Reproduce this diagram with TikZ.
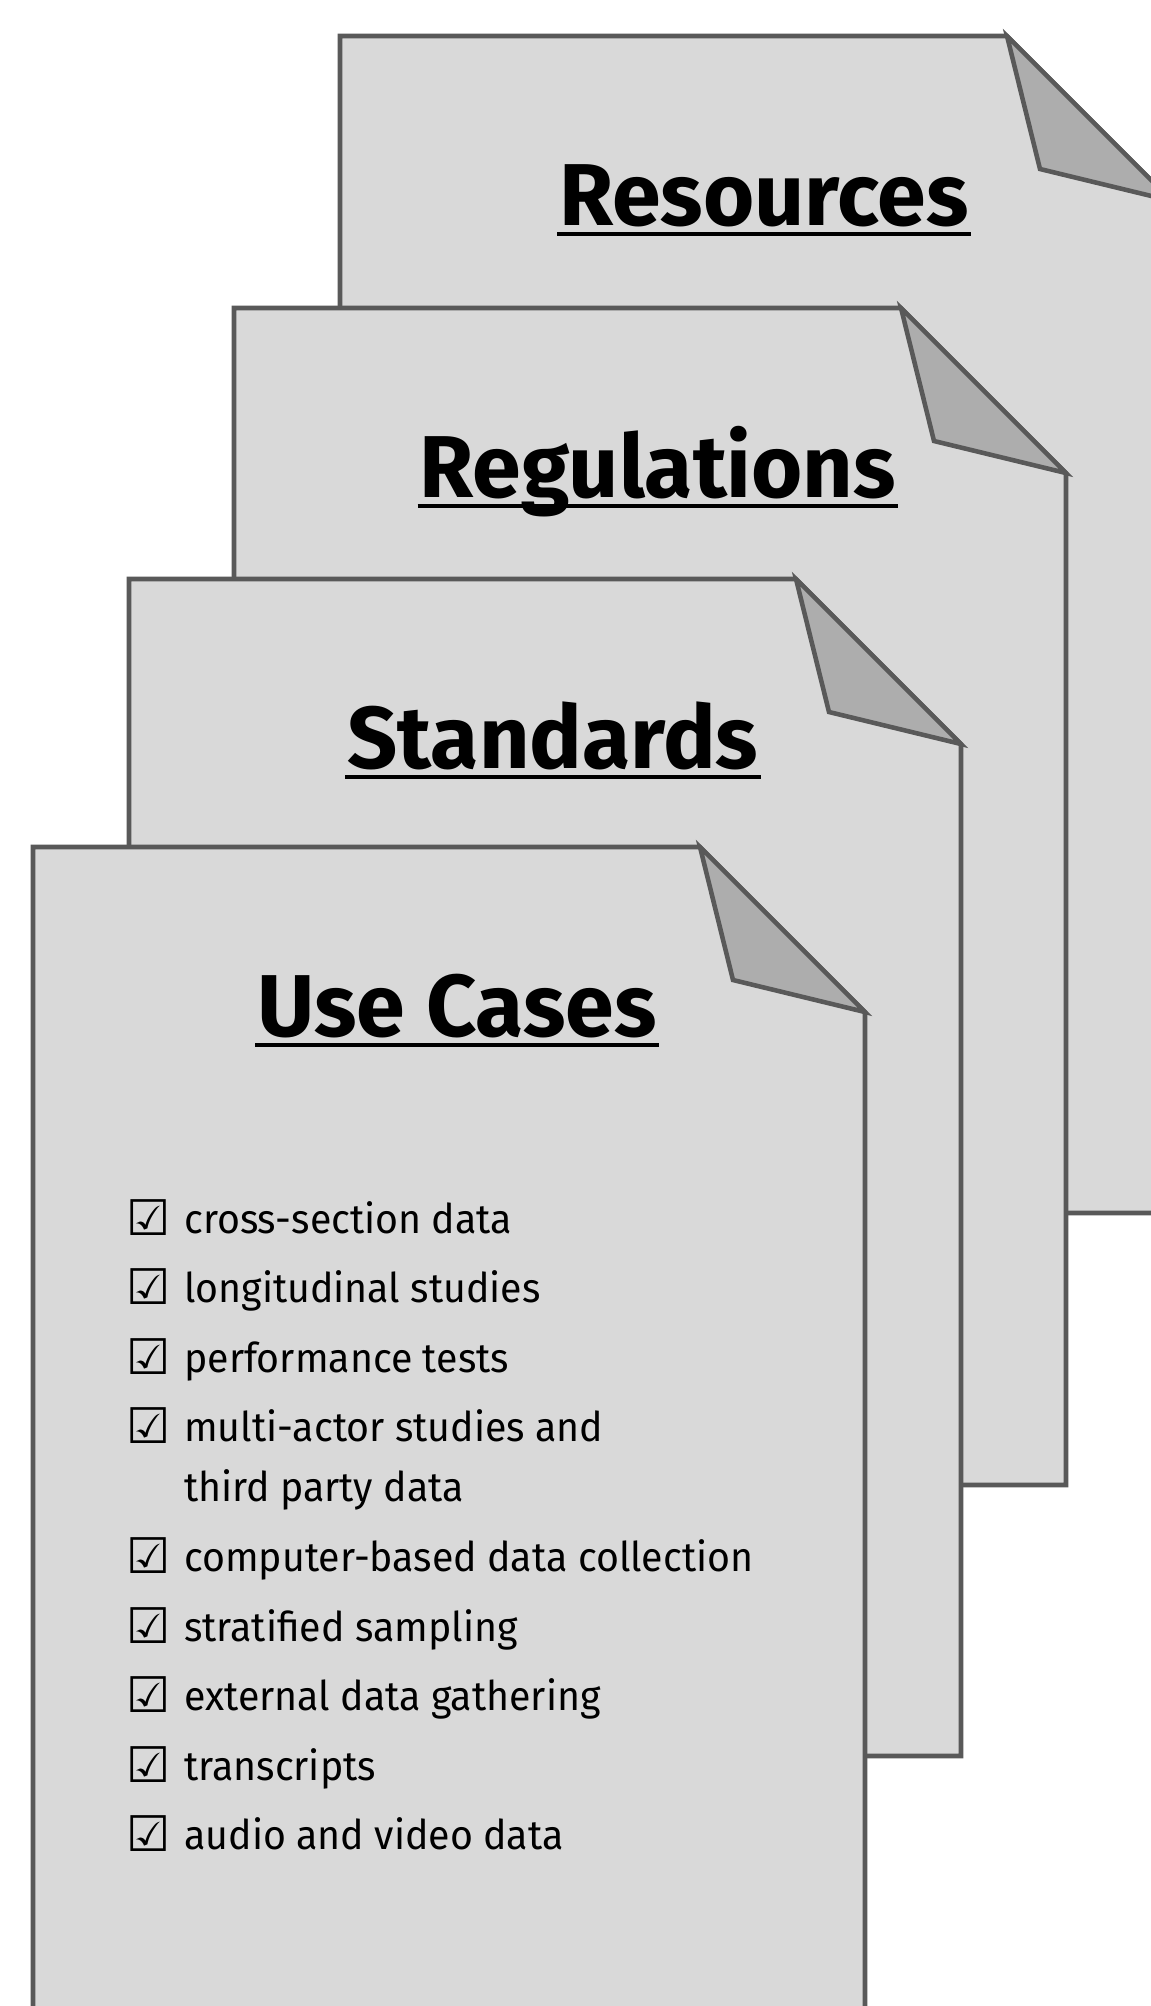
\documentclass[tikz,border=0pt]{standalone}
\usepackage{fontspec}
\setmainfont{Fira Sans}
\newfontfamily\titlefont[FakeStretch=1.0]{Fira Sans}
\newfontfamily\listfont[FakeStretch=0.96]{Fira Sans}
\newfontfamily\boxfont{DejaVu Sans}
\definecolor{pagefill}{HTML}{D9D9D9}
\definecolor{foldfill}{HTML}{ADADAD}
\definecolor{pageline}{HTML}{595959}
\begin{document}
\begin{tikzpicture}[
        x=0.02cm,
        y=-0.02cm,
        line width=2.6pt
    ]
    \tikzset{
        page/.style = {draw=pageline, fill=pagefill},
        fold/.style = {draw=pageline, fill=foldfill},
        title/.style = {anchor=base, inner sep=0pt,
            font=\titlefont\bfseries\fontsize{50pt}{50pt}\selectfont},
        uline/.style = {line width=2.3pt, black},
        item/.style = {anchor=base west, inner sep=0pt,
            font=\listfont\fontsize{23.3pt}{23.3pt}\selectfont},
        tick/.style = {anchor=base west, inner sep=0pt,
            font=\boxfont\bfseries\fontsize{28pt}{28pt}\selectfont},
    }
    \useasboundingbox (0,0) rectangle (1151,2006);
    \clip (0,0) rectangle (1151,2006);
    %
    \draw[page] (340,36) -- (1007,36) -- (1172,201) -- (1172,1213) -- (340,1213) -- cycle;
    \draw[fold] (1007,36) -- (1040,169) -- (1172,201) -- cycle;
    \node[title] at (764,225) (res) {Resources};
    \draw[uline] ([shift={(0,9)}]res.base west) -- ([shift={(0,9)}]res.base east);
    %
    \draw[page] (234,308) -- (901,308) -- (1066,473) -- (1066,1485) -- (234,1485) -- cycle;
    \draw[fold] (901,308) -- (934,441) -- (1066,473) -- cycle;
    \node[title] at (658,497) (reg) {Regulations};
    \draw[uline] ([shift={(0,9)}]reg.base west) -- ([shift={(0,9)}]reg.base east);
    %
    \draw[page] (129,579) -- (796,579) -- (961,744) -- (961,1756) -- (129,1756) -- cycle;
    \draw[fold] (796,579) -- (829,712) -- (961,744) -- cycle;
    \node[title] at (553,768) (std) {Standards};
    \draw[uline] ([shift={(0,9)}]std.base west) -- ([shift={(0,9)}]std.base east);
    %
    \draw[page] (33,847) -- (700,847) -- (865,1012) -- (865,2030) -- (33,2030) -- cycle;
    \draw[fold] (700,847) -- (733,980) -- (865,1012) -- cycle;
    \node[title] at (457,1036) (use) {Use Cases};
    \draw[uline] ([shift={(0,9)}]use.base west) -- ([shift={(0,9)}]use.base east);
    %
    \node[tick] at (124,1235) (b1) {☑};
    \node[item] at (182,1233) (c1) {cross-section data};
    \node[tick] at (124,1304) (b2) {☑};
    \node[item] at (182,1302) (c2) {longitudinal studies};
    \node[tick] at (124,1374) (b3) {☑};
    \node[item] at (182,1372) (c3) {performance tests};
    \node[tick] at (124,1443) (b4) {☑};
    \node[item] at (182,1441) (c4) {multi-actor studies and};
    \node[item] at (182,1501) (c4b) {third party data};
    \node[tick] at (124,1573) (b5) {☑};
    \node[item] at (182,1571) (c5) {computer-based data collection};
    \node[tick] at (124,1643) (b6) {☑};
    \node[item] at (182,1641) (c6) {stratified sampling};
    \node[tick] at (124,1712) (b7) {☑};
    \node[item] at (182,1710) (c7) {external data gathering};
    \node[tick] at (124,1782) (b8) {☑};
    \node[item] at (182,1780) (c8) {transcripts};
    \node[tick] at (124,1851) (b9) {☑};
    \node[item] at (182,1849) (c9) {audio and video data};
\end{tikzpicture}
\end{document}
